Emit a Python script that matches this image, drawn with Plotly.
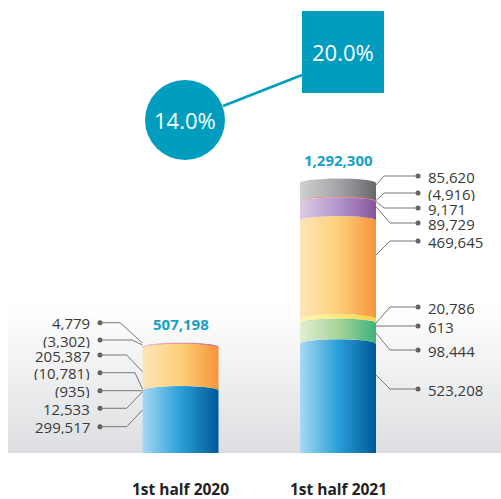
import numpy as np
import plotly.graph_objects as go

# ---- data -------------------------------------------------------------
periods = ["1st half 2020", "1st half 2021"]
totals = [507198, 1292300]
growth = ["14.0%", "20.0%"]

# components, stacked from the bottom up (negatives are drawn waterfall style)
values_2020 = [299517, 12533, -935, -10781, 205387, -3302, 4779]
values_2021 = [523208, 98444, 613, 20786, 469645, 89729, 9171, -4916, 85620]

colors_2020 = ["blue", "green", "teal", "yellow", "orange", "red", "pink"]
colors_2021 = ["blue", "green", "teal", "yellow", "orange", "purple", "red", "pink", "gray"]

# horizontal (left, middle, right) shading of each cylinder component
PALETTE = {
    "blue":   ["#a8d9f4", "#2a9fd9", "#005898"],
    "green":  ["#e2eed2", "#a8d59a", "#3db27a"],
    "teal":   ["#6cc9a8", "#2fa888", "#138a6a"],
    "yellow": ["#fff7b4", "#fde97a", "#f5d24a"],
    "orange": ["#fde5b8", "#fdd07a", "#f7943a"],
    "purple": ["#dccbe6", "#b596cb", "#84559f"],
    "red":    ["#f6a08f", "#ef7460", "#e25545"],
    "pink":   ["#f1bfd0", "#dd93b4", "#b87aa8"],
    "gray":   ["#cfd0d1", "#a3a5a8", "#66686c"],
}

# ---- layout geometry --------------------------------------------------
W, H = 501, 499
PLOT_BOTTOM = 453            # pixel row of the value axis origin
UNITS_PER_PX = 4786.0        # value units per pixel
YMAX = PLOT_BOTTOM * UNITS_PER_PX
BAR_X = [180.5, 338.0]
BAR_W = 76.0
ARC_PX = 4.5                 # bulge of the elliptical segment edges

TEAL = "#009dbf"
TOTAL_COLOR = "#17a0c6"
TEXT_COLOR = "#3a3a3a"
LINE_COLOR = "#777777"
FONT = "Open Sans"


def Y(p):
    """value-axis coordinate of a pixel row"""
    return (PLOT_BOTTOM - p) * UNITS_PER_PX


def fmt(v):
    return f"({abs(v):,})" if v < 0 else f"{v:,}"


fig = go.Figure()

# soft grey floor behind the bars
fig.add_trace(go.Scatter(
    x=[8, W, W, 8, 8], y=[0, 0, Y(305), Y(305), 0],
    mode="lines", line=dict(width=0), fill="toself",
    fillgradient=dict(type="vertical",
                      colorscale=[[0, "#dcdee1"], [0.5, "#eeeff0"], [1, "#ffffff"]]),
    hoverinfo="skip", showlegend=False))


def add_cylinder(xc, values, cnames):
    xs = np.linspace(xc - BAR_W / 2, xc + BAR_W / 2, 61)
    arc = ARC_PX * UNITS_PER_PX * np.sqrt(np.clip(1 - ((xs - xc) / (BAR_W / 2)) ** 2, 0, 1))
    cum = 0.0
    for v, cname in zip(values, cnames):
        if v >= 0:
            lo, hi = cum, cum + v
        else:
            lo, hi = cum + v, cum
        cum += v
        bottom = lo + (arc if lo > 0 else 0 * arc)
        top = hi + arc
        px = np.concatenate([xs, xs[::-1], xs[:1]])
        py = np.concatenate([bottom, top[::-1], bottom[:1]])
        c = PALETTE[cname]
        fig.add_trace(go.Scatter(
            x=px, y=py, mode="lines", line=dict(width=0), fill="toself",
            fillgradient=dict(type="horizontal",
                              colorscale=[[0, c[0]], [0.5, c[1]], [1, c[2]]]),
            hovertemplate=f"{fmt(v)}<extra></extra>", showlegend=False))


add_cylinder(BAR_X[0], values_2020, colors_2020)
add_cylinder(BAR_X[1], values_2021, colors_2021)

# ---- leader lines and value labels -----------------------------------
# (pixel row on the bar, elbow x, label row), listed top to bottom
left_leaders = [(343, 120, 322.7), (345, 132, 340), (371.7, 126.7, 355),
                (389.3, 135, 372.7), (390.7, 135, 390.7), (391.7, 126.7, 408.3),
                (410, 126.7, 426.7)]
right_leaders = [(185, 384, 176), (200.7, 384, 193), (201.7, 384, 208),
                 (206.7, 390, 223), (255, 390, 241), (323, 390, 307),
                 (326, 390, 326), (333, 390, 350), (375, 390, 389)]

shapes = []
annotations = []
dot_x, dot_y = [], []


def add_leaders(leaders, values, side):
    if side == "left":
        bx = BAR_X[0] - BAR_W / 2
        dx, tx, anchor = 100, 92, "right"
    else:
        bx = BAR_X[1] + BAR_W / 2
        dx, tx, anchor = 418, 426, "left"
    for (by, ex, ly), v in zip(leaders, values[::-1]):
        shapes.append(dict(type="path", xref="x", yref="y",
                           path=f"M {bx},{Y(by)} L {ex},{Y(ly)} L {dx},{Y(ly)}",
                           line=dict(color=LINE_COLOR, width=1)))
        dot_x.append(dx)
        dot_y.append(Y(ly))
        annotations.append(dict(x=tx, y=Y(ly), xref="x", yref="y", text=fmt(v),
                                showarrow=False, xanchor=anchor, yanchor="middle",
                                height=15,
                                font=dict(family=FONT, size=15, color=TEXT_COLOR)))


add_leaders(left_leaders, values_2020, "left")
add_leaders(right_leaders, values_2021, "right")

fig.add_trace(go.Scatter(x=dot_x, y=dot_y, mode="markers",
                         marker=dict(size=5, color="#5e5e5e"),
                         hoverinfo="skip", showlegend=False))

# totals above each cylinder
for xc, t in zip(BAR_X, totals):
    annotations.append(dict(x=xc, y=t, xref="x", yref="y", text=f"<b>{t:,}</b>",
                            showarrow=False, xanchor="center", yanchor="bottom",
                            yshift=11, font=dict(family=FONT, size=15, color=TOTAL_COLOR)))

# period labels under the cylinders
for xc, p in zip(BAR_X, periods):
    annotations.append(dict(x=xc, y=-(489 - PLOT_BOTTOM) / PLOT_BOTTOM, xref="x", yref="paper",
                            text=f"<b>{p}</b>", showarrow=False, xanchor="center",
                            yanchor="middle", height=16,
                            font=dict(family=FONT, size=15.5, color="#222222")))

# growth badges: circle for 2020, square for 2021, joined by a line
shapes.append(dict(type="line", xref="x", yref="y", x0=223, y0=Y(106), x1=302, y1=Y(75),
                   line=dict(color=TEAL, width=2.5), layer="below"))
shapes.append(dict(type="circle", xref="x", yref="y", x0=145, x1=225, y0=Y(160), y1=Y(80),
                   fillcolor=TEAL, line=dict(width=0)))
shapes.append(dict(type="rect", xref="x", yref="y", x0=302, x1=384, y0=Y(93), y1=Y(11),
                   fillcolor=TEAL, line=dict(width=0)))
for (cx, cy), g in zip([(185, 120), (343, 52)], growth):
    annotations.append(dict(x=cx, y=Y(cy), xref="x", yref="y", text=g, showarrow=False,
                            xanchor="center", yanchor="middle",
                            font=dict(family=FONT, size=22, color="white")))

fig.update_layout(
    width=W, height=H,
    margin=dict(l=0, r=0, t=0, b=H - PLOT_BOTTOM),
    paper_bgcolor="white", plot_bgcolor="rgba(0,0,0,0)",
    xaxis=dict(range=[0, W], visible=False, fixedrange=True),
    yaxis=dict(range=[0, YMAX], visible=False, fixedrange=True),
    shapes=shapes, annotations=annotations, showlegend=False,
)

fig.write_html("out.html")
